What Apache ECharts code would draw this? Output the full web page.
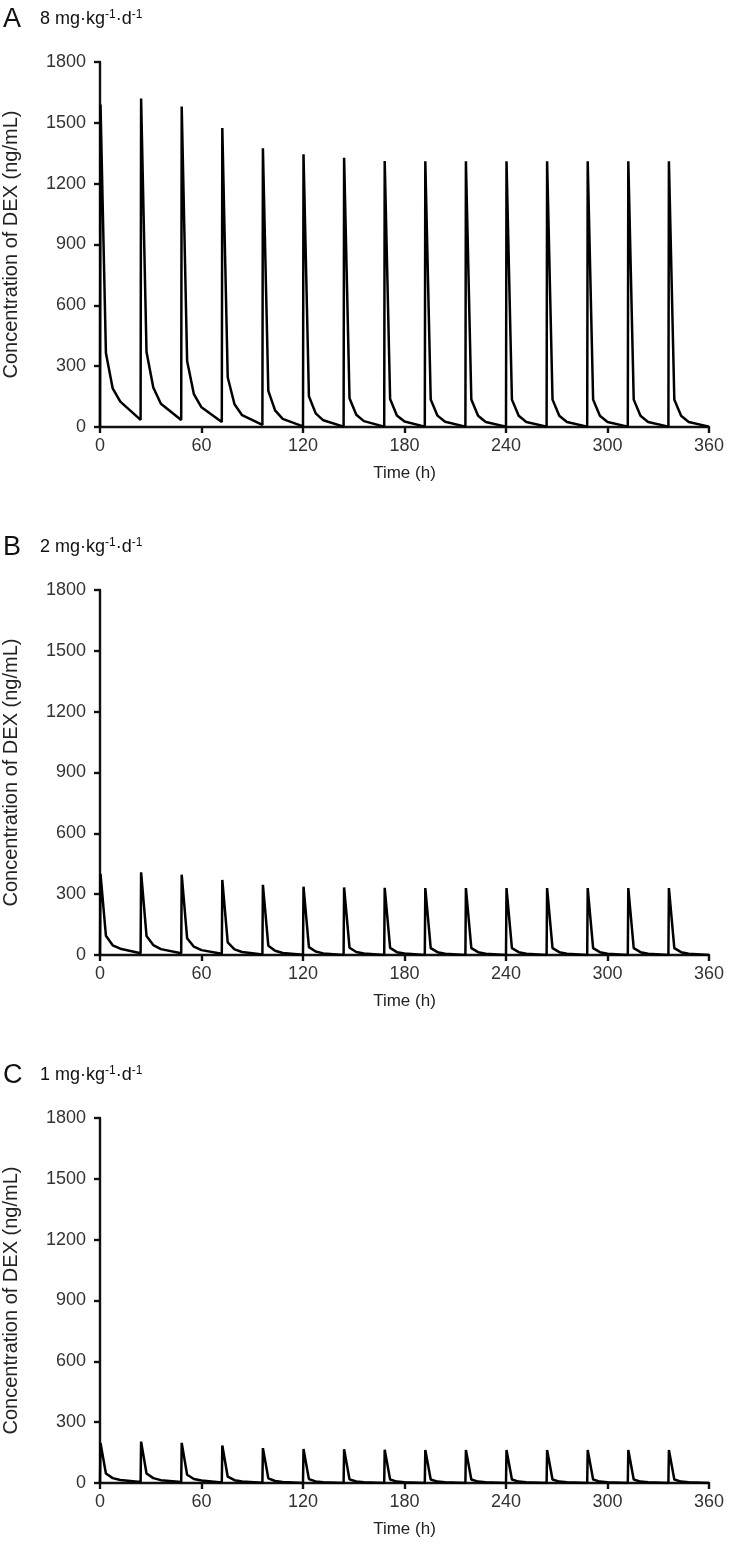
<!DOCTYPE html>
<html>
<head>
<meta charset="utf-8">
<script src="https://cdn.jsdelivr.net/npm/echarts@6/dist/echarts.min.js"></script>
<style>
  html, body { margin: 0; padding: 0; background: #fff; }
  #chart { width: 729px; height: 1562px; }
</style>
</head>
<body>
<div id="chart"></div>
<script>
// dosing times (h), one dose every 24 h
const doseTimes = [0, 24, 48, 72, 96, 120, 144, 168, 192, 216, 240, 264, 288, 312, 336];
// sampling offsets after each dose (h): peak, ~3.5 h, ~7.5 h, 12 h, 24 h
const sampleOffsets = [0.3, 3.5, 7.5, 12, 24];

// A: 8 mg/kg/d  (ng/mL)
const peakA   = [1590, 1620, 1580, 1475, 1375, 1345, 1328, 1312, 1310, 1311, 1310, 1310, 1310, 1310, 1310];
const c3A     = [365, 370, 325, 245, 178, 152, 142, 138, 136, 136, 135, 135, 135, 135, 135];
const c7A     = [190, 195, 162, 112, 82, 67, 60, 57, 56, 55, 55, 55, 55, 55, 55];
const c12A    = [125, 115, 97, 58, 40, 33, 29, 27, 26, 25, 25, 25, 25, 25, 25];
const troughA = [35, 35, 25, 10, 3, 2, 2, 2, 2, 2, 2, 2, 2, 2, 2];

// B: 2 mg/kg/d
const peakB   = [400, 408, 396, 370, 346, 337, 333, 331, 330, 330, 330, 330, 330, 330, 330];
const c3B     = [95, 94, 83, 62, 46, 39, 36, 35, 34, 34, 34, 34, 34, 34, 34];
const c7B     = [48, 49, 41, 28, 21, 17, 15, 14, 14, 14, 14, 14, 14, 14, 14];
const c12B    = [31, 29, 24, 15, 10, 8, 7, 7, 6, 6, 6, 6, 6, 6, 6];
const troughB = [9, 9, 6, 3, 1, 0.6, 0.5, 0.5, 0.5, 0.5, 0.5, 0.5, 0.5, 0.5, 0.5];

// C: 1 mg/kg/d
const peakC   = [198, 204, 198, 185, 172, 168, 166, 164, 163, 163, 163, 163, 163, 163, 163];
const c3C     = [47, 47, 41, 31, 23, 19, 18, 17, 17, 17, 17, 17, 17, 17, 17];
const c7C     = [24, 24, 20, 14, 10, 8, 7.5, 7, 7, 7, 7, 7, 7, 7, 7];
const c12C    = [15, 14, 12, 7.5, 5, 4, 3.5, 3.3, 3.2, 3.2, 3.2, 3.2, 3.2, 3.2, 3.2];
const troughC = [4.5, 4.5, 3, 1.3, 0.5, 0.4, 0.3, 0.3, 0.3, 0.3, 0.3, 0.3, 0.3, 0.3, 0.3];

const panelLetters = ['A', 'B', 'C'];
const panelDoses = ['8', '2', '1'];

/**
 * 把每次给药的采样值拼成一条折线 [time, conc]
 */
function buildCurve(peaks, c3, c7, c12, troughs) {
    const pts = [[0, 0]];
    doseTimes.forEach((t, i) => {
        const vals = [peaks[i], c3[i], c7[i], c12[i], troughs[i]];
        sampleOffsets.forEach((off, k) => {
            pts.push([t + off, vals[k]]);
        });
    });
    return pts;
}

const curves = [
    buildCurve(peakA, c3A, c7A, c12A, troughA),
    buildCurve(peakB, c3B, c7B, c12B, troughB),
    buildCurve(peakC, c3C, c7C, c12C, troughC)
];

const font = 'Liberation Sans, Arial, sans-serif';
const panelTop = [62, 590, 1118];
const plotH = 365;

const chart = echarts.init(document.getElementById('chart'));

const grids = [], xAxes = [], yAxes = [], series = [], titles = [];
panelTop.forEach((top, i) => {
    grids.push({ left: 100, right: 20, top: top, height: plotH, containLabel: false, outerBoundsMode: 'none' });
    xAxes.push({
        type: 'value', gridIndex: i, min: 0, max: 360, interval: 60,
        name: 'Time (h)', nameLocation: 'middle', nameGap: 38,
        nameTextStyle: { fontFamily: font, fontSize: 17, color: '#222' },
        axisLine: { show: true, lineStyle: { color: '#111', width: 2.4 } },
        axisTick: { show: true, length: 6, lineStyle: { color: '#111', width: 2.4 } },
        axisLabel: { fontFamily: font, fontSize: 18, color: '#333', margin: 10 },
        splitLine: { show: false }
    });
    yAxes.push({
        type: 'value', gridIndex: i, min: 0, max: 1800, interval: 300,
        name: 'Concentration of DEX (ng/mL)', nameLocation: 'middle', nameGap: 79,
        nameTextStyle: { fontFamily: font, fontSize: 20, color: '#222' },
        axisLine: { show: true, lineStyle: { color: '#111', width: 2.4 } },
        axisTick: { show: true, length: 6, lineStyle: { color: '#111', width: 2.4 } },
        axisLabel: { fontFamily: font, fontSize: 18, color: '#333', margin: 14,
                     formatter: v => String(v) },
        splitLine: { show: false }
    });
    series.push({
        type: 'line', xAxisIndex: i, yAxisIndex: i,
        data: curves[i], showSymbol: false, smooth: false,
        lineStyle: { color: '#000', width: 2.5 }, animation: false
    });
    titles.push({
        text: panelLetters[i], left: 3, top: top - 56, padding: 0,
        textStyle: { fontFamily: font, fontSize: 27, fontWeight: 'normal', color: '#111' }
    });
    titles.push({
        text: panelDoses[i] + ' mg·kg{s|-1}·d{s|-1}', left: 40, top: top - 53, padding: 0,
        textStyle: {
            fontFamily: font, fontSize: 18, fontWeight: 'normal', color: '#111', lineHeight: 21,
            rich: { s: { fontFamily: font, fontSize: 12, color: '#111', verticalAlign: 'top', lineHeight: 21, padding: [0, 0, 8, 0] } }
        }
    });
});

chart.setOption({
    backgroundColor: '#fff',
    animation: false,
    title: titles,
    grid: grids,
    xAxis: xAxes,
    yAxis: yAxes,
    series: series
});
</script>
</body>
</html>
